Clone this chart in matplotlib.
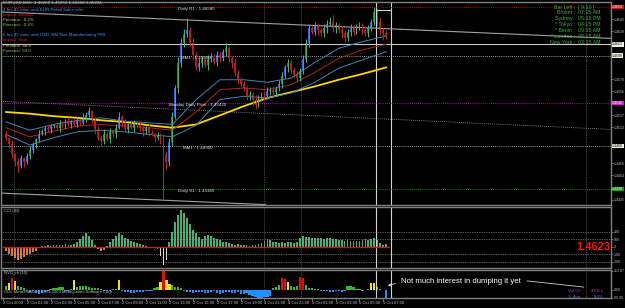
import matplotlib
matplotlib.use('Agg')
import matplotlib.pyplot as plt
import numpy as np
from matplotlib.ticker import FixedLocator, FormatStrFormatter
from matplotlib.transforms import blended_transform_factory

plt.rcParams['font.family'] = ['Liberation Sans', 'DejaVu Sans']

# --- price data, in pips above 1.4400 (EURUSD M15) ---
base = 1.44
first_open = 104
closes = [100, 92, 80, 72, 66, 75, 70, 78, 85, 92,
          98, 105, 108, 112, 110, 114, 115, 112, 118, 115,
          120, 117, 119, 116, 121, 118, 124, 128, 132, 122,
          110, 100, 96, 104, 98, 108, 104, 112, 125, 118,
          110, 116, 112, 118, 115, 112, 108, 112, 106, 104,
          100, 103, 98, 80, 70, 95, 125, 160, 190, 215,
          225, 230, 215, 200, 185, 190, 195, 188, 195, 198,
          192, 200, 196, 204, 208, 196, 190, 178, 170, 165,
          160, 150, 152, 146, 140, 148, 152, 150, 156, 158,
          155, 160, 165, 175, 185, 190, 182, 176, 172, 180,
          195, 215, 232, 228, 235, 230, 226, 232, 238, 240,
          232, 236, 230, 226, 220, 228, 232, 228, 234, 236,
          230, 226, 232, 240, 252, 240, 230, 226, 223]
wick_up = [4, 3, 5, 2, 3, 4, 2, 3, 5, 3,
           2, 4, 3, 2, 5, 3, 2, 4, 3, 2,
           3, 5, 2, 3, 4, 2, 6, 3, 5, 2,
           3, 4, 2, 6, 3, 4, 2, 5, 6, 3,
           4, 2, 5, 3, 2, 4, 3, 2, 4, 3,
           2, 4, 3, 6, 4, 5, 6, 4, 8, 5,
           6, 15, 4, 5, 3, 6, 4, 3, 5, 4,
           3, 5, 4, 3, 6, 4, 3, 5, 4, 3,
           4, 3, 5, 3, 6, 4, 3, 4, 5, 3,
           4, 3, 5, 4, 3, 5, 4, 3, 5, 4,
           5, 4, 6, 3, 5, 4, 3, 5, 4, 6,
           8, 4, 3, 5, 4, 3, 5, 4, 3, 4,
           3, 5, 4, 3, 6, 4, 5, 3, 4]
wick_dn = [3, 5, 4, 6, 8, 3, 5, 2, 4, 3,
           4, 3, 2, 5, 3, 4, 2, 3, 5, 2,
           4, 3, 5, 2, 3, 4, 2, 5, 3, 4,
           5, 3, 6, 4, 2, 5, 3, 4, 2, 5,
           3, 4, 2, 5, 3, 4, 6, 3, 4, 2,
           5, 3, 6, 55, 8, 4, 5, 3, 6, 4,
           5, 3, 4, 6, 3, 5, 4, 3, 6, 4,
           3, 5, 4, 3, 5, 4, 6, 3, 5, 4,
           3, 5, 4, 6, 5, 3, 4, 5, 3, 4,
           5, 3, 4, 5, 3, 6, 4, 3, 5, 4,
           3, 4, 5, 3, 4, 6, 3, 4, 5, 3,
           4, 5, 3, 6, 4, 3, 5, 4, 3, 4,
           5, 3, 4, 3, 4, 5, 6, 8, 4]

# moving averages sampled every 8 bars
ma_idx = [0, 8, 16, 24, 32, 40, 48, 56, 64, 72, 80, 88, 96, 104, 112, 120, 128]
ma_upper = [119, 109, 116, 121, 124, 120, 118, 116, 146, 170, 170, 167, 172, 191, 208, 216, 223]
ma_mid = [112, 101, 108, 114, 116, 114, 112, 109, 131, 158, 160, 158, 164, 179, 196, 206, 213]
ma_lower = [104, 91, 100, 107, 109, 107, 104, 101, 115, 146, 150, 148, 154, 167, 184, 194, 204]
ma_slow = [131, 129, 126, 124, 121, 119, 115, 112, 116, 127, 138, 148, 155, 162, 170, 177, 185]

# pivot levels (pips)
r1, mm_hi, pivot, mm_lo, s1 = 258, 199, 142, 90, 38
hline_level = 213
top_line = ([-1.7, 203.7], [252, 220])
mid_line = ([-1.7, 203.7], [144, 110])
low_line = ([-1.7, 87.4], [33, 19])
grid_x = [2.7, 87, 99.2, 195.3]
box_left, box_right, box_top = 124.7, 129.7, 254

cci = [-60, -90, -120, -150, -170, -160, -140, -110, -90, -70, -50, -20,
       10, 15, 20, 15,
       25, 20, 30, 25, 35, 30, 25, 35,
       60, 100, 140, 180, 150, 90,
       20, -30, -60, -40, 10,
       60, 110, 150, 190, 160, 120,
       100, 80, 70, 50, 40, 30,
       15, -10, -20, -15, -30,
       -120, -240, -180,
       60, 200, 330, 430, 490, 450,
       380, 300, 230, 180, 130, 110,
       150, 160, 140, 120, 100,
       90, 70, 60, 50, 40, 30, 35, 25,
       20, 25, 15, 20, 30, 40, 50,
       80, 100, 95, 70, 60,
       50, 60, 55, 65, 60, 50, 70,
       120, 140, 135, 130, 120, 125, 120, 115, 110, 120, 115, 110, 100, 95, 90, 85,
       90, 85, 80, 75, 80, 90, 100, 95, 110,
       120, 90, 50, 30, 40]
cci_kind = "o" * 12 + "g" * 19 + "p" * 3 + "g" * 14 + "p" * 4 + "w" * 3 + "g" * 74

vol = [40, 80, 135, 100, 45, 25, 20, -15, -25, -20,
       -35, -45, -40, -25, -10, 10, 20, 15, 35, 30,
       -10, -20, 10, 110, 30, 45, 40, 45, 25, 15,
       20, 15, 10, -10, -15, -10, 5, 5, 115, -15,
       -25, -30, -35, -40, -30, -25, -30, -20, -15, -10,
       15, 25, 85, 215, 110, 70, 50, 35, 25, 15,
       -20, -25, -30, -35, -30, -25, -30, -40, -35, -25,
       -20, -35, -45, -40, -30, -25, -35, -40, -30, -45,
       -50, -40, -60, -75, -85, -90, -95, -80, -85, -75,
       15, 35, 55, 135, 125, 85, 40, 30, 45, 140,
       130, 50, 20, 15, 10, 10, -10, -15, -10, -25,
       -30, -20, -15, -25, -10, 40, 45, 25, 10, 5,
       -10, -5, 10, 75, 80, 25, 10, -5, -110]

time_labels = ["2 Oct 2009", "2 Oct 01:00", "2 Oct 03:00", "2 Oct 05:00", "2 Oct 07:00",
               "2 Oct 09:00", "2 Oct 11:00", "2 Oct 13:00", "2 Oct 15:00", "2 Oct 17:00",
               "2 Oct 19:00", "4 Oct 21:00", "4 Oct 23:00", "5 Oct 01:00", "5 Oct 03:00",
               "5 Oct 05:00", "5 Oct 07:00"]
time_pos = [-1, 7, 15, 23, 31, 39, 47, 55, 63, 71, 79, 87, 95, 103, 111, 119, 127]

news_lines = ["EURUSD,M15  1.46262 1.46262 1.46262 1.46234",
              "4 hrs 45 mins until EUR Retail Sales m/m", "Impact: Medium",
              "Previous: -0.2%", "Forecast: -0.4%", "",
              "6 hrs 45 mins until USD ISM Non-Manufacturing PMI", "Impact: High",
              "Previous: 48.4", "Forecast: 50.0"]
clock_names = ["Bar Left :", "Broker :", "Sydney :", "* Tokyo :", "* Berlin :", "* London :", "New York :"]
clock_vals = ["[ 9:10 ]", "07:15 AM", "05:15 PM", "04:15 PM", "09:15 AM", "08:15 AM", "03:15 AM"]


def price(p):
    return base + np.asarray(p, dtype=float) / 10000.0


BG = 'black'
GRAY = '#808080'
LBL = '#c0c0c0'
XLIM = (-1.7, 203.7)

fig = plt.figure(figsize=(6.25, 3.08), dpi=100, facecolor=BG)
ax = fig.add_axes([0.0016, 0.3344, 0.976, 0.6591], facecolor=BG)
ax_cci = fig.add_axes([0.0016, 0.1299, 0.976, 0.1981], facecolor=BG)
ax_vol = fig.add_axes([0.0016, 0.0325, 0.976, 0.0909], facecolor=BG)

for a in (ax, ax_cci, ax_vol):
    a.set_xlim(*XLIM)
    for s in a.spines.values():
        s.set_color(GRAY)
        s.set_linewidth(1.0)
    a.yaxis.tick_right()
    a.tick_params(axis='y', labelsize=2.5, colors=LBL, length=1.2, width=0.4, pad=0.6)
    a.tick_params(axis='x', bottom=False, labelbottom=False)
    for gx in grid_x:
        a.axvline(gx, color=GRAY, lw=0.5, ls=(0, (1, 1.5)))
    a.axvline(box_left, color='#d0d0d0', lw=0.8)
    a.axvline(box_right, color='#d0d0d0', lw=0.8)

# ---------------- main price panel ----------------
n = len(closes)
x = np.arange(n)
c = np.array(closes, dtype=float)
o = np.array([first_open] + closes[:-1], dtype=float)
hi = np.maximum(o, c) + np.array(wick_up)
lo = np.minimum(o, c) - np.array(wick_dn)
bull = c >= o

ax.set_ylim(price(18.6), price(264))
ax.yaxis.set_major_locator(FixedLocator(price([25, 54.5, 69, 112.5, 127, 156, 170.5, 228.5, 243])))
ax.yaxis.set_major_formatter(FormatStrFormatter('%.4f'))

ax.plot(top_line[0], price(top_line[1]), color='#a0a0a0', lw=0.8)
ax.plot(mid_line[0], price(mid_line[1]), color='#a0a0a0', lw=0.6, ls=(0, (1, 1.5)))
ax.plot(low_line[0], price(low_line[1]), color='#a0a0a0', lw=0.8)
ax.axhline(price(hline_level), color='#c8c8c8', lw=0.8)
ax.axhline(price(r1), color='#d01010', lw=0.6, ls=(0, (1, 1.5)))
ax.axhline(price(pivot), color='#c020c0', lw=0.6, ls=(0, (1, 1.5)))
ax.axhline(price(s1), color='#20a020', lw=0.6, ls=(0, (1, 1.5)))
ax.axhline(price(mm_hi), color='#d0d0d0', lw=0.6, ls=(0, (1, 1.5)))
ax.axhline(price(mm_lo), color='#d0d0d0', lw=0.6, ls=(0, (1, 1.5)))

ax.plot(ma_idx, price(ma_slow), color='#ffd700', lw=1.3)
ax.plot(ma_idx, price(ma_upper), color='#4682b4', lw=0.7)
ax.plot(ma_idx, price(ma_lower), color='#4682b4', lw=0.7)
ax.plot(ma_idx, price(ma_mid), color='#b22222', lw=0.7)

ax.vlines(x, price(lo), price(hi), colors=np.where(bull, '#3cb371', '#c02020'), lw=0.75)
body_lo = np.minimum(o, c)
body_h = np.maximum(np.abs(c - o), 0.8)
ax.bar(x, body_h / 10000.0, bottom=price(body_lo), width=0.62,
       color=np.where(bull, '#2b5ce6', '#b01818'), linewidth=0)

ax.plot([box_left, box_right], [price(box_top)] * 2, color='#d0d0d0', lw=0.8)

lvl_font = dict(fontsize=3.2, color='#e0e0e0', va='top')
ax.text(58, price(r1), f"Daily R1 : {price(r1):.5f}", **lvl_font)
ax.text(59, price(mm_hi), f"MM1 : {price(mm_hi):.5f}", **lvl_font)
ax.text(55, price(pivot), f"Monday Daily Pivot : {price(pivot):.5f}", **lvl_font)
ax.text(59.5, price(mm_lo), f"MM1 : {price(mm_lo):.5f}", **lvl_font)
ax.text(58, price(s1), f"Daily S1 : {price(s1):.5f}", **lvl_font)

# price boxes on the scale
tr = blended_transform_factory(ax.transAxes, ax.transData)
for lv, fc, tc in [(r1, '#e01010', 'white'), (pivot, '#d020d0', 'white'), (s1, '#10a010', 'white'),
                   (hline_level, '#f0f0e0', 'black'), (mm_hi, '#f0f0e0', 'black'),
                   (mm_lo, '#f0f0e0', 'black')]:
    ax.text(1.002, price(lv), f"{price(lv):.4f}", transform=tr, fontsize=2.5, color=tc,
            va='center', ha='left', clip_on=False,
            bbox=dict(boxstyle='square,pad=0.12', fc=fc, ec='none'))

# news text block
news_cols = ['#c0c0c0', '#3399ff', '#d02020', '#d8c070', '#90c060', None,
             '#3399ff', '#d02020', '#d8c070', '#90c060']
news_y = [3, 10, 15, 20, 25, 0, 35, 40, 46, 51]
for txt, col, yy in zip(news_lines, news_cols, news_y):
    if not txt:
        continue
    ax.text(0.004, 1 - (yy - 2) / 203, txt, transform=ax.transAxes, fontsize=3.2,
            color=col, va='center', ha='left')

for k, (nm, vl) in enumerate(zip(clock_names, clock_vals)):
    yy = 1 - (7 + 5.85 * k - 2) / 203
    ax.text(0.9415, yy, nm, transform=ax.transAxes, fontsize=3.8, color='#3cb043',
            ha='right', va='center')
    ax.text(0.9465, yy, vl, transform=ax.transAxes, fontsize=3.8, color='#3cb043',
            ha='left', va='center')

# ---------------- CCI panel ----------------
ax_cci.set_ylim(-280, 533)
kind_col = {'g': '#3cb371', 'o': '#e07a20', 'p': '#c08888', 'w': '#d8d8d8'}
ax_cci.bar(x, cci, width=0.6, color=[kind_col[k] for k in cci_kind], linewidth=0)
ax_cci.plot([-1, n], [0, 0], color='#b22222', lw=1.0)
for lv in (200, 100, -100, -200):
    ax_cci.axhline(lv, color='#b0b0b0', lw=0.5, ls=(0, (1, 1.5)))
ax_cci.yaxis.set_major_locator(FixedLocator([200, 100, 0, -100, -200]))
ax_cci.yaxis.set_major_formatter(FormatStrFormatter('%.0f'))
ax_cci.text(0.005, 0.94, "CCI (43)", transform=ax_cci.transAxes, fontsize=3, color=LBL, va='center')
ax_cci.text(0.998, 0.345, f"{price(closes[-1]):.4f}", transform=ax_cci.transAxes, fontsize=8,
            fontweight='bold', color='#ff1010', ha='right', va='center')

# ---------------- volume panel ----------------
ax_vol.set_ylim(-95, 225)
v = np.array(vol)
vcol = np.where(v < 0, '#1e90ff', np.where(v < 70, '#32b832', np.where(v < 120, '#f0e020', '#e01010')))
ax_vol.bar(x, v, width=0.75, color=vcol, linewidth=0)
ax_vol.yaxis.set_major_locator(FixedLocator([213.87, 0.0, -90]))
ax_vol.yaxis.set_major_formatter(FormatStrFormatter('%.2f'))
ax_vol.text(0.005, 0.88, "NVO_rh (10)", transform=ax_vol.transAxes, fontsize=3, color=LBL, va='center')
ax_vol.text(0.005, 0.2, "ODL MetaTrader, \u00a9 2001-2009 MetaQuotes Software Corp.",
            transform=ax_vol.transAxes, fontsize=3, color=LBL, va='center')
ax_vol.text(133, 95, "Not much interest in dumping it yet", fontsize=5.6, color='white',
            va='center', ha='left')
ax_vol.annotate('', xy=(127.6, 35), xytext=(132, 80),
                arrowprops=dict(arrowstyle='-|>', color='#d0d0d0', lw=0.6, mutation_scale=4))
ax_vol.plot([175.5, 194.5], [100, 30], color='#d0d0d0', lw=0.6)
ax_vol.text(193.5, -10, "Vol Ch", fontsize=3.2, color='#b040d0', ha='right', va='center')
ax_vol.text(197, -10, "47.8 v", fontsize=3.2, color='#c040c0', ha='left', va='center')
ax_vol.text(193.5, -78, "% Avg", fontsize=3.2, color='#6a6ae0', ha='right', va='center')
ax_vol.text(198, -78, "8.0%", fontsize=3.2, color='#6a6ae0', ha='left', va='center')

# time axis
ax_vol.set_xticks(time_pos)
ax_vol.tick_params(axis='x', bottom=True, length=2, width=0.4, color=LBL, labelbottom=False)
for tp, tl in zip(time_pos, time_labels):
    ax_vol.text(tp, -0.18, tl, transform=blended_transform_factory(ax_vol.transData, ax_vol.transAxes),
                fontsize=3, color=LBL, ha='left', va='center', clip_on=False)

fig.savefig('out.png', dpi=100, facecolor=BG)
